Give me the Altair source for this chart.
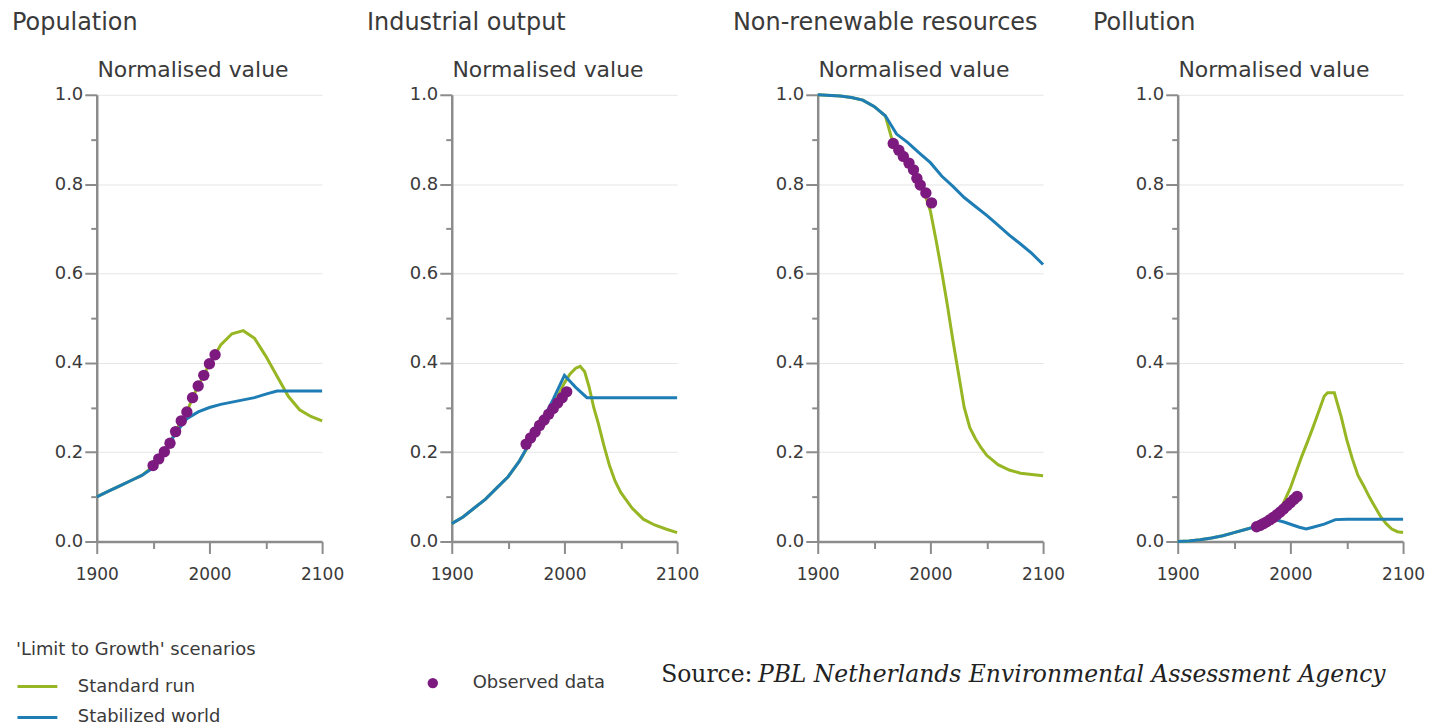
import altair as alt
import pandas as pd

# ---------------- data ----------------
# Population
pop_std_years = [1900, 1910, 1920, 1930, 1940, 1950, 1955, 1960, 1965, 1970, 1975, 1980, 1985, 1990, 1995, 2000, 2005,
                 2010, 2020, 2030, 2040, 2050, 2060, 2070, 2080, 2090, 2100]
pop_std_vals = [0.100, 0.112, 0.124, 0.136, 0.148, 0.168, 0.185, 0.201, 0.220, 0.246, 0.270, 0.290, 0.322, 0.348, 0.372,
                0.398, 0.418, 0.440, 0.465, 0.472, 0.455, 0.415, 0.370, 0.325, 0.295, 0.280, 0.270]
pop_stab_years = [1900, 1910, 1920, 1930, 1940, 1950, 1960, 1970, 1980, 1990, 2000, 2010, 2020, 2030, 2040, 2050,
                  2060, 2070, 2080, 2090, 2100]
pop_stab_vals = [0.100, 0.112, 0.124, 0.136, 0.148, 0.165, 0.200, 0.243, 0.275, 0.290, 0.300, 0.307, 0.312, 0.317,
                 0.322, 0.330, 0.337, 0.337, 0.337, 0.337, 0.337]
pop_obs_years = [1950, 1955, 1960, 1965, 1970, 1975, 1980, 1985, 1990, 1995, 2000, 2005]
pop_obs_vals = [0.170, 0.185, 0.201, 0.220, 0.246, 0.270, 0.290, 0.322, 0.348, 0.372, 0.398, 0.418]

# Industrial output
ind_std_years = [1900, 1910, 1920, 1930, 1940, 1950, 1960, 1970, 1980, 1990, 2000, 2005, 2010, 2014, 2018, 2022,
                 2026, 2030, 2035, 2040, 2045, 2050, 2060, 2070, 2080, 2090, 2100]
ind_std_vals = [0.040, 0.055, 0.075, 0.095, 0.120, 0.145, 0.180, 0.222, 0.262, 0.305, 0.355, 0.375, 0.388, 0.392,
                0.380, 0.345, 0.300, 0.265, 0.215, 0.170, 0.135, 0.110, 0.075, 0.050, 0.037, 0.028, 0.020]
ind_stab_years = [1900, 1910, 1920, 1930, 1940, 1950, 1960, 1970, 1980, 1990, 2000, 2010, 2020, 2030, 2040, 2050,
                  2060, 2070, 2080, 2090, 2100]
ind_stab_vals = [0.040, 0.055, 0.075, 0.095, 0.120, 0.145, 0.180, 0.225, 0.268, 0.318, 0.372, 0.345, 0.322, 0.322,
                 0.322, 0.322, 0.322, 0.322, 0.322, 0.322, 0.322]
ind_obs_years = [1966, 1970, 1974, 1978, 1982, 1986, 1990, 1994, 1998, 2002]
ind_obs_vals = [0.218, 0.232, 0.245, 0.260, 0.272, 0.285, 0.298, 0.310, 0.322, 0.335]

# Non-renewable resources
res_std_years = [1900, 1920, 1930, 1940, 1950, 1960, 1967, 1980, 1990, 1995, 2000, 2005, 2010, 2015, 2020, 2025,
                 2030, 2035, 2040, 2045, 2050, 2060, 2070, 2080, 2090, 2100]
res_std_vals = [1.000, 0.997, 0.994, 0.988, 0.974, 0.953, 0.890, 0.848, 0.805, 0.778, 0.740, 0.675, 0.605, 0.530,
                0.450, 0.375, 0.300, 0.255, 0.230, 0.210, 0.193, 0.172, 0.160, 0.153, 0.150, 0.147]
res_stab_years = [1900, 1920, 1930, 1940, 1950, 1960, 1970, 1980, 1990, 2000, 2010, 2020, 2030, 2040, 2050, 2060,
                  2070, 2080, 2090, 2100]
res_stab_vals = [1.000, 0.997, 0.994, 0.988, 0.974, 0.953, 0.912, 0.893, 0.870, 0.848, 0.818, 0.795, 0.770, 0.750,
                 0.730, 0.708, 0.686, 0.666, 0.645, 0.620]
res_obs_years = [1967, 1972, 1976, 1981, 1985, 1988, 1991, 1996, 2001]
res_obs_vals = [0.891, 0.876, 0.862, 0.847, 0.832, 0.813, 0.798, 0.780, 0.758]

# Pollution
pol_std_years = [1900, 1910, 1920, 1930, 1940, 1950, 1960, 1970, 1980, 1990, 2000, 2005, 2010, 2015, 2020, 2025,
                 2030, 2033, 2039, 2045, 2050, 2055, 2060, 2065, 2070, 2075, 2080, 2085, 2090, 2095, 2100]
pol_std_vals = [0.000, 0.001, 0.004, 0.008, 0.013, 0.020, 0.027, 0.034, 0.045, 0.065, 0.120, 0.155, 0.190, 0.222,
                0.255, 0.290, 0.325, 0.333, 0.333, 0.280, 0.228, 0.185, 0.148, 0.125, 0.100, 0.078, 0.056, 0.040,
                0.028, 0.022, 0.020]
pol_stab_years = [1900, 1910, 1920, 1930, 1940, 1950, 1960, 1970, 1980, 1988, 1995, 2002, 2008, 2014, 2020, 2030,
                  2040, 2050, 2060, 2070, 2080, 2090, 2100]
pol_stab_vals = [0.000, 0.001, 0.004, 0.008, 0.013, 0.020, 0.027, 0.034, 0.042, 0.048, 0.043, 0.037, 0.032, 0.028,
                 0.032, 0.039, 0.049, 0.050, 0.050, 0.050, 0.050, 0.050, 0.050]
pol_obs_years = [1970, 1973, 1976, 1979, 1982, 1985, 1988, 1991, 1994, 1997, 2000, 2003, 2006]
pol_obs_vals = [0.033, 0.036, 0.040, 0.044, 0.049, 0.054, 0.060, 0.066, 0.073, 0.080, 0.087, 0.094, 0.101]

panel_titles = ["Population", "Industrial output", "Non-renewable resources", "Pollution"]
series_names = ["Standard run", "Stabilized world"]
obs_name = "Observed data"
legend_title = "'Limit to Growth' scenarios"
y_title = "Normalised value"
x_ticks = [1900, 1950, 2000, 2050, 2100]
y_ticks = [0.0, 0.1, 0.2, 0.3, 0.4, 0.5, 0.6, 0.7, 0.8, 0.9, 1.0]
source_prefix = "Source:"
source_text = "PBL Netherlands Environmental Assessment Agency"

# ---------------- styling ----------------
GREEN = "#97b623"
BLUE = "#1f7db5"
PURPLE = "#7c1a7f"
AXIS_GRAY = "#8c8c8c"
TEXT = "#3a3a3a"
FONT = "DejaVu Sans"
SERIF = "DejaVu Serif"
PW, PH = 226, 448
MAJOR_Y = "round(datum.value * 10) % 2 === 0"


def panel(title, sy, sv, by, bv, oy, ov):
    lines = pd.DataFrame({
        "year": sy + by,
        "value": sv + bv,
        "series": [series_names[0]] * len(sy) + [series_names[1]] * len(by),
    })
    obs = pd.DataFrame({"year": oy, "value": ov, "kind": [obs_name] * len(oy)})

    x = alt.X("year:Q",
              scale=alt.Scale(domain=[1900, 2100], nice=False, zero=False),
              axis=alt.Axis(values=x_ticks, format="d", title=None, grid=False,
                            labelExpr="datum.value % 100 === 0 ? datum.label : ''",
                            tickSize={"condition": {"test": "datum.value % 100 === 0", "value": 12}, "value": 7},
                            tickWidth=2, tickColor=AXIS_GRAY,
                            domainColor=AXIS_GRAY, domainWidth=2.5,
                            labelFont=FONT, labelFontSize=17, labelColor=TEXT,
                            labelPadding=13, labelFlush=False))
    y = alt.Y("value:Q",
              scale=alt.Scale(domain=[0, 1], nice=False),
              axis=alt.Axis(values=y_ticks, title=y_title,
                            labelExpr=MAJOR_Y + " ? format(datum.value, '.1f') : ''",
                            grid=True,
                            gridColor={"condition": {"test": MAJOR_Y + " && datum.value > 0",
                                                     "value": "#e6e6e6"},
                                       "value": "transparent"},
                            gridWidth=1,
                            tickSize={"condition": {"test": MAJOR_Y, "value": 12}, "value": 6},
                            tickWidth=2, tickColor=AXIS_GRAY,
                            domainColor=AXIS_GRAY, domainWidth=2.5,
                            labelFont=FONT, labelFontSize=18, labelColor=TEXT, labelPadding=2,
                            labelFlush=False,
                            titleAngle=0, titleAlign="center", titleBaseline="middle",
                            titleX=96, titleY=-25, titleFont=FONT, titleFontSize=22,
                            titleFontWeight="normal", titleColor=TEXT))

    line_layer = alt.Chart(lines).mark_line(strokeWidth=3).encode(
        x=x, y=y,
        color=alt.Color("series:N",
                        scale=alt.Scale(domain=series_names, range=[GREEN, BLUE]),
                        sort=series_names,
                        legend=alt.Legend(title=legend_title, orient="none", legendX=-81, legendY=548,
                                          symbolType="stroke", symbolSize=1600, symbolStrokeWidth=3,
                                          labelFont=FONT, labelFontSize=18, labelColor=TEXT,
                                          titleFont=FONT, titleFontSize=18, titleFontWeight="normal",
                                          titleColor=TEXT, titlePadding=6, labelOffset=19,
                                          titleLimit=500, labelLimit=400,
                                          rowPadding=-7, padding=0)),
        detail="series:N",
        order=alt.Order("year:Q"),
    )
    dot_layer = alt.Chart(obs).mark_point(filled=True, size=130, opacity=1, color=PURPLE).encode(
        x="year:Q", y="value:Q",
        shape=alt.Shape("kind:N", scale=alt.Scale(domain=[obs_name], range=["circle"]),
                        legend=alt.Legend(title=None, orient="none", legendX=328, legendY=581,
                                          symbolFillColor=PURPLE, symbolStrokeColor=PURPLE,
                                          symbolSize=110, labelFont=FONT, labelFontSize=18,
                                          labelColor=TEXT, labelOffset=31, labelLimit=400, padding=0)),
    )
    return alt.layer(line_layer, dot_layer).properties(
        width=PW, height=PH,
        title=alt.TitleParams(title, anchor="start", frame="group", dx=-85, offset=24,
                              font=FONT, fontSize=24, fontWeight="normal", color=TEXT),
    )


p1 = panel(panel_titles[0], pop_std_years, pop_std_vals, pop_stab_years, pop_stab_vals, pop_obs_years, pop_obs_vals)
p2 = panel(panel_titles[1], ind_std_years, ind_std_vals, ind_stab_years, ind_stab_vals, ind_obs_years, ind_obs_vals)
p3 = panel(panel_titles[2], res_std_years, res_std_vals, res_stab_years, res_stab_vals, res_obs_years, res_obs_vals)
p4 = panel(panel_titles[3], pol_std_years, pol_std_vals, pol_stab_years, pol_stab_vals, pol_obs_years, pol_obs_vals)

panels = alt.hconcat(
    alt.hconcat(p1, p2, spacing=23),
    alt.hconcat(p3, p4, spacing=28),
    spacing=34,
)

src = pd.DataFrame({"t": [source_prefix]})
src2 = pd.DataFrame({"t": [source_text]})
footer = alt.layer(
    alt.Chart(src).mark_text(align="left", baseline="middle", font=SERIF, fontSize=23.5,
                             color="#222").encode(text="t:N", x=alt.value(566), y=alt.value(93)),
    alt.Chart(src2).mark_text(align="left", baseline="middle", font=SERIF, fontSize=23.5,
                              fontStyle="italic", color="#222").encode(text="t:N", x=alt.value(663),
                                                                        y=alt.value(93)),
).properties(width=1200, height=110)

chart = alt.vconcat(panels, footer, spacing=0).properties(
    padding={"left": 4, "top": 2, "right": 0, "bottom": 0}
).configure_view(stroke=None)

chart.save("out.html", embed_options={"renderer": "svg", "actions": False})
